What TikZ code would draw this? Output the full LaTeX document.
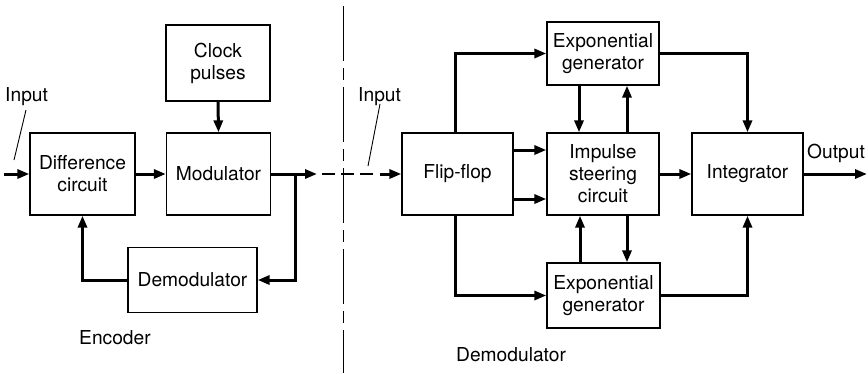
\documentclass[tikz,border=0pt]{standalone}
\usepackage{fontspec}
\setmainfont{TeX Gyre Heros}
\usetikzlibrary{arrows.meta}
\begin{document}
\begin{tikzpicture}[x=1pt,y=-1pt,
  font=\fontsize{19.2}{22}\selectfont,
  blk/.style={draw, line width=1.3pt, inner sep=0pt, align=center, anchor=center},
  sig/.style={line width=3pt, -{Triangle[length=12pt,width=9pt]}},
  lbl/.style={inner sep=0pt, anchor=west},
  leader/.style={line width=0.9pt}]
\useasboundingbox (0,0) rectangle (868,373);

% encoder blocks
\node[blk, minimum width=105pt, minimum height=82pt] (diff) at (82.5,174) {Difference\\circuit};
\node[blk, minimum width=104pt, minimum height=82pt] (mod) at (218.5,174) {Modulator};
\node[blk, minimum width=104pt, minimum height=76pt] (clk) at (218,63) {Clock\\pulses};
\node[blk, minimum width=129pt, minimum height=65pt] (dem) at (192.5,280) {Demodulator};

% demodulator blocks
\node[blk, minimum width=111pt, minimum height=82pt] (ff) at (457.5,174) {Flip-flop};
\node[blk, minimum width=112pt, minimum height=63pt] (expt) at (603,53.5) {Exponential\\generator};
\node[blk, minimum width=112pt, minimum height=82pt] (imp) at (603,174) {Impulse\\steering\\circuit};
\node[blk, minimum width=113pt, minimum height=65pt] (expb) at (603.5,295.5) {Exponential\\generator};
\node[blk, minimum width=111pt, minimum height=82pt] (int) at (747.5,174) {Integrator};

% free ends and bends
\coordinate (inL) at (4,174);
\coordinate (encout) at (317,174);
\coordinate (tap) at (295,174);
\coordinate (outR) at (867,174);

% labels
\node[lbl] (inlblL) at (5,97) {Input};
\node[lbl] (inlblR) at (358,97) {Input};
\node[lbl] (outlbl) at (807,153) {Output};
\node[lbl] (enclbl) at (79,338) {Encoder};
\node[lbl] (demlbl) at (456,355) {Demodulator};

% section divider
\draw[line width=1pt, dash pattern=on 55pt off 7pt on 12pt off 7pt] (343,6) -- (343,373);

% encoder wiring
\draw[sig] (inL) -- (diff.west);
\draw[sig] (diff.east) -- (mod.west);
\draw[sig] (clk.south) -- (mod.north);
\draw[sig] (mod.east) -- (encout);
\draw[sig] (tap) |- (dem.east);
\draw[sig] (dem.west) -| (diff.south);

% link to the receiver
\draw[line width=2.4pt, dash pattern=on 13pt off 6pt] ([xshift=5pt]encout) -- ([xshift=-26pt]ff.west);
\draw[sig] ([xshift=-21pt]ff.west) -- (ff.west);

% input leaders
\draw[leader] (26,110) -- (14,160);
\draw[leader] (380,104) -- (368,166);

% demodulator wiring
\draw[sig] ([xshift=-2.5pt]ff.north) |- (expt.west);
\draw[sig] ([xshift=-2.5pt]ff.south) |- (expb.west);
\draw[sig] (ff.east |- 0,150) -- (imp.west |- 0,150);
\draw[sig] (ff.east |- 0,199) -- (imp.west |- 0,199);
\draw[sig] (expt.south -| 579,0) -- (imp.north -| 579,0);
\draw[sig] (imp.north -| 627,0) -- (expt.south -| 627,0);
\draw[sig] (expb.north -| 580,0) -- (imp.south -| 580,0);
\draw[sig] (imp.south -| 627,0) -- (expb.north -| 627,0);
\draw[sig] (imp.east) -- (int.west);
\draw[sig] (expt.east) -| (int.north);
\draw[sig] (expb.east) -| (int.south);
\draw[sig] (int.east) -- (outR);
\end{tikzpicture}
\end{document}
